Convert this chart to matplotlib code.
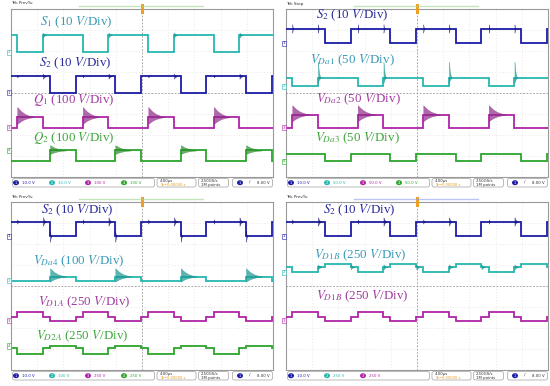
import numpy as np
import matplotlib
matplotlib.use('Agg')
import matplotlib.pyplot as plt
from matplotlib.patches import FancyBboxPatch, Ellipse, Rectangle

plt.rcParams['mathtext.fontset'] = 'stix'

# ---------------- timing (in divisions, 4 us/div) ----------------
phase_edges = [0, 0.24, 1.22, 1.49, 2.47, 2.74, 3.72, 3.98, 4.97, 5.24,
               6.22, 6.48, 7.46, 7.74, 8.72, 8.97, 9.96, 10]
# A: S1 low, B: S2 low, C: both high
phase_state = ['C', 'A', 'C', 'B', 'C', 'A', 'C', 'B', 'C', 'A',
               'C', 'B', 'C', 'A', 'C', 'B', 'C']
S1_fall = [0.24, 2.74, 5.24, 7.74]
S1_rise = [1.22, 3.72, 6.22, 8.72]
S2_fall = [1.49, 3.98, 6.48, 8.97]
S2_rise = [2.47, 4.97, 7.46]

# ringing envelope read from the bursts (relative time, relative amplitude)
ring_t = [0.0, 0.06, 0.15, 0.28, 0.42, 0.6]
ring_a = [1.0, 0.8, 0.55, 0.3, 0.14, 0.02]

# ---------------- levels (divisions from bottom) [A, B, C] ----------------
p1_S1 = [5.93, 6.76, 6.76]
p1_S2 = [4.80, 4.02, 4.80]
p1_Q1 = [2.86, 2.34, 2.34]
p1_Q2 = [0.75, 1.27, 0.75]

p2_S2 = [7.07, 6.36, 7.07]
p2_VDa1 = [4.32, 4.72, 4.72]
p2_VDa2 = [2.97, 2.34, 2.34]
p2_VDa3 = [1.11, 0.75, 1.11]

p3_S2 = [7.07, 6.36, 7.07]
p3_VDa4 = [4.26, 4.45, 4.26]
p3_VD1A = [2.78, 2.34, 2.54]
p3_VD2A = [0.75, 1.14, 1.03]

p4_S2 = [7.07, 6.36, 7.07]
p4_VD1B_c = [4.66, 5.04, 4.90]
p4_VD1B_m = [2.78, 2.34, 2.54]

# channel scales shown in the status bars
p1_scales = ['10.0 V', '10.0 V', '100 V', '100 V']
p2_scales = ['10.0 V', '50.0 V', '50.0 V', '50.0 V']
p3_scales = ['10.0 V', '100 V', '250 V', '250 V']
p4_scales = ['10.0 V', '250 V', '250 V']

ch_col = {1: '#1c1ca6', 2: '#25b7b0', 3: '#b024a8', 4: '#2ca52c'}
lab_col = {1: '#2b2b9c', 2: '#3a9ab5', 3: '#a23ca0', 4: '#3ea63e'}
ring_col = {1: '#10107a', 2: '#1a958e', 3: '#8e2a88', 4: '#2a8a2a'}

fig = plt.figure(figsize=(5.5, 3.86), dpi=100)
W, H = 550.0, 386.0


def level_of(levels, t):
    idx = np.searchsorted(phase_edges, t, side='right') - 1
    idx = min(max(idx, 0), len(phase_state) - 1)
    return levels['ABC'.index(phase_state[idx])]


def draw_trace(ax, levels, ch, rings=()):
    xs = np.array(phase_edges)
    ys = [levels['ABC'.index(s)] for s in phase_state] + \
         [levels['ABC'.index(phase_state[-1])]]
    ax.plot(xs, ys, drawstyle='steps-post', color=ch_col[ch], lw=1.3,
            solid_joinstyle='miter', zorder=3)
    for times, amp, dur, down in rings:
        for t0 in times:
            lv = level_of(levels, t0 + 0.01)
            rx = t0 + np.array(ring_t) * dur / 0.6
            env = amp * np.array(ring_a)
            ax.fill_between(rx, lv + env, lv - env * down,
                            color=ring_col[ch], alpha=0.7, lw=0.3, zorder=4)


def panel(ox, oy, traces, labels, scales, header, topcol):
    left = (ox + 11) / W
    bottom = 1 - (oy + 177) / H
    ax = fig.add_axes([left, bottom, 262 / W, 168 / H])
    ax.set_xlim(0, 10)
    ax.set_ylim(0, 8)
    ax.set_xticks([])
    ax.set_yticks([])
    for s in ax.spines.values():
        s.set_color('#9a9a9a')
        s.set_linewidth(0.8)
    for gx in range(1, 10):
        ax.axvline(gx, color='#d5d5d5', lw=0.5, ls=(0, (1, 3)), zorder=1)
    for gy in range(1, 8):
        ax.axhline(gy, color='#d5d5d5', lw=0.5, ls=(0, (1, 3)), zorder=1)
    ax.axvline(5, color='#9a9a9a', lw=0.6, ls=(0, (2, 2)), zorder=1)
    ax.axhline(4, color='#9a9a9a', lw=0.6, ls=(0, (2, 2)), zorder=1)
    for levels, ch, rings in traces:
        draw_trace(ax, levels, ch, rings)
        # channel marker on left border
        ax.text(-0.03, levels[1] if ch != 2 else min(levels), str(ch),
                fontsize=3, color=ch_col[ch], ha='right', va='center',
                bbox=dict(boxstyle='square,pad=0.15', fc='white',
                          ec=ch_col[ch], lw=0.4), clip_on=False, zorder=5)
    for txt, ch, x, y in labels:
        ax.text(x, y, txt, color=lab_col[ch], fontsize=9.4,
                family='Liberation Serif', ha='center', va='center', zorder=6)

    ov = fig.add_axes([ox / W, 1 - (oy + 193) / H, 275 / W, 193 / H],
                      zorder=10)
    ov.set_xlim(0, 275)
    ov.set_ylim(193, 0)
    ov.axis('off')
    ov.patch.set_alpha(0)
    ov.text(11, 3.5, header, fontsize=3, color='#333333', va='center')
    ov.plot([79, 203], [6, 6], color=topcol, lw=1.0, alpha=0.6)
    ov.add_patch(Rectangle((140.5, 4), 3, 10, color='#f0a020', lw=0))
    # status bar
    ov.add_patch(FancyBboxPatch((12.5, 178.5), 142, 8.5,
                                boxstyle='round,pad=0,rounding_size=2',
                                fc='white', ec='#a0a0a0', lw=0.5))
    cx = [16, 52, 88, 124]
    for i, sc in enumerate(scales):
        ch = i + 1
        ov.add_patch(Ellipse((cx[i], 182.7), 6, 5, color=ch_col[ch], lw=0))
        ov.text(cx[i], 182.8, str(ch), fontsize=2.5, color='white',
                ha='center', va='center')
        ov.text(cx[i] + 6, 182.8, sc, fontsize=2.8, color=ch_col[ch],
                va='center')
    ov.add_patch(FancyBboxPatch((157, 178.5), 39, 8.5,
                                boxstyle='round,pad=0,rounding_size=2',
                                fc='white', ec='#a0a0a0', lw=0.5))
    ov.text(160, 180.8, '4.00\u03bcs', fontsize=2.8, color='#333333',
            va='center')
    ov.text(160, 185.0, 'T\u25b8\u22120.00000 s', fontsize=2.6,
            color='#e89a20', va='center')
    ov.add_patch(FancyBboxPatch((198.5, 178.5), 30, 8.5,
                                boxstyle='round,pad=0,rounding_size=2',
                                fc='white', ec='#a0a0a0', lw=0.5))
    ov.text(201, 180.8, '2.50GS/s', fontsize=2.8, color='#333333',
            va='center')
    ov.text(201, 185.0, '1M points', fontsize=2.8, color='#333333',
            va='center')
    ov.add_patch(FancyBboxPatch((232.5, 178.5), 40, 8.5,
                                boxstyle='round,pad=0,rounding_size=2',
                                fc='white', ec='#a0a0a0', lw=0.5))
    ov.add_patch(Ellipse((240, 182.7), 6, 5, color=ch_col[1], lw=0))
    ov.text(240, 182.8, '1', fontsize=2.5, color='white', ha='center',
            va='center')
    ov.text(250, 182.8, '\u2215', fontsize=3.2, color='#333333',
            ha='center', va='center')
    ov.text(257, 182.8, '8.00 V', fontsize=2.8, color='#333333',
            va='center')


# ---------------- panel 1 ----------------
panel(0, 0,
      [(p1_S1, 2, [(S1_rise, 0.12, 0.12, 1.0)]),
       (p1_S2, 1, [(S1_rise, 0.12, 0.12, 1.0), (S1_fall, 0.06, 0.05, 1.0)]),
       (p1_Q1, 3, [(S1_fall, 0.48, 0.62, 0.7)]),
       (p1_Q2, 4, [(S2_fall, 0.25, 0.62, 0.7)])],
      [(r'$S_1$ (10 $V$/Div)', 2, 2.48, 7.39),
       (r'$S_2$ (10 $V$/Div)', 1, 2.43, 5.41),
       (r'$Q_1$ (100 $V$/Div)', 3, 2.41, 3.66),
       (r'$Q_2$ (100 $V$/Div)', 4, 2.38, 1.86)],
      p1_scales, 'Tek PrevYu', '#9ed48e')

# ---------------- panel 2 ----------------
panel(275, 0,
      [(p2_S2, 1, [(S1_rise, 0.2, 0.04, 1.0), (S1_fall, 0.2, 0.04, 1.0)]),
       (p2_VDa1, 2, [(S1_rise, 0.76, 0.1, 0.3)]),
       (p2_VDa2, 3, [(S1_fall, 0.45, 0.65, 0.7)]),
       (p2_VDa3, 4, [])],
      [(r'$S_2$ (10 $V$/Div)', 1, 2.51, 7.71),
       (r'$V_{Da1}$ (50 $V$/Div)', 2, 2.53, 5.56),
       (r'$V_{Da2}$ (50 $V$/Div)', 3, 2.76, 3.69),
       (r'$V_{Da3}$ (50 $V$/Div)', 4, 2.72, 1.86)],
      p2_scales, 'Tek Stop', '#9ed48e')

# ---------------- panel 3 ----------------
panel(0, 193,
      [(p3_S2, 1, [(S1_rise, 0.2, 0.12, 1.0), (S1_fall, 0.1, 0.05, 1.0),
                   (S2_fall, 0.25, 0.05, 1.0)]),
       (p3_VDa4, 2, [(S2_fall, 0.4, 0.6, 0.6)]),
       (p3_VD1A, 3, []),
       (p3_VD2A, 4, [])],
      [(r'$S_2$ (10 $V$/Div)', 1, 2.51, 7.6),
       (r'$V_{Da4}$ (100 $V$/Div)', 2, 2.59, 5.17),
       (r'$V_{D1A}$ (250 $V$/Div)', 3, 2.79, 3.21),
       (r'$V_{D2A}$ (250 $V$/Div)', 4, 2.70, 1.62)],
      p3_scales, 'Tek PrevYu', '#9ed48e')

# ---------------- panel 4 ----------------
panel(275, 193,
      [(p4_S2, 1, [(S1_rise, 0.2, 0.12, 1.0), (S1_fall, 0.1, 0.05, 1.0)]),
       (p4_VD1B_c, 2, [(S1_rise, 0.13, 0.14, 0.8), (S2_rise, 0.13, 0.14, 0.8)]),
       (p4_VD1B_m, 3, [])],
      [(r'$S_2$ (10 $V$/Div)', 1, 2.78, 7.6),
       (r'$V_{D1B}$ (250 $V$/Div)', 2, 2.83, 5.44),
       (r'$V_{D1B}$ (250 $V$/Div)', 3, 2.92, 3.53)],
      p4_scales, 'Tek PrevYu', '#8c9ef0')

fig.savefig('out.png', dpi=100)
